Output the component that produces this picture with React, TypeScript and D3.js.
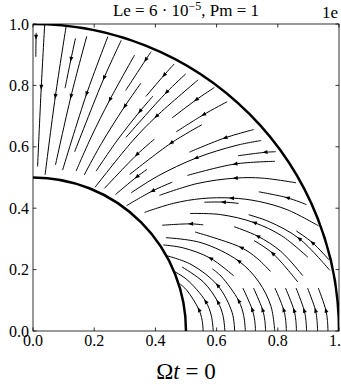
import React from 'react'
import * as d3 from 'd3'

type Pt = [number, number]

const xTicks = [0, 0.2, 0.4, 0.6, 0.8, 1.0]
const yTicks = [0, 0.2, 0.4, 0.6, 0.8, 1.0]
// inner and outer radius of the shell
const shells = [0.5, 1.0]

// field lines near the pole, outer end first (flow goes inward)
const poleLines: Pt[][] = [
  [[0.0106, 0.971], [0.0100, 0.957], [0.0092, 0.893]],
  [[0.0382, 0.999], [0.0270, 0.794], [0.0150, 0.536]],
  [[0.1085, 0.994], [0.0730, 0.764], [0.0395, 0.509]],
  [[0.1387, 0.953], [0.1240, 0.885], [0.1047, 0.791]],
  [[0.1756, 0.960], [0.1240, 0.764], [0.0735, 0.541]],
  [[0.2447, 0.959], [0.1750, 0.772], [0.0967, 0.524]],
  [[0.2885, 0.947], [0.2320, 0.824], [0.1361, 0.584]],
  [[0.3320, 0.899], [0.2510, 0.753], [0.1903, 0.632], [0.1408, 0.521]],
  [[0.3520, 0.8065], [0.2997, 0.7315], [0.2234, 0.6104], [0.1672, 0.508]],
  [[0.3862, 0.910], [0.3680, 0.883], [0.3028, 0.7835]],
  [[0.3922, 0.7654], [0.3490, 0.715], [0.2757, 0.6216], [0.2061, 0.5207]],
  [[0.5395, 0.818], [0.4030, 0.699], [0.3257, 0.6196], [0.2026, 0.468]],
  [[0.4617, 0.870], [0.4280, 0.833], [0.3690, 0.764]],
  [[0.4992, 0.8375], [0.4360, 0.777], [0.3037, 0.6307]],
  [[0.5925, 0.7931], [0.5330, 0.753], [0.4548, 0.6943]],
  [[0.6345, 0.7469], [0.5570, 0.7045], [0.4680, 0.6488]],
]
const poleArrows = [1, 1, 1, 1, 1, 1, 1, 1, 1, 1, 1, 1, 1, 1, 1, 1]

// field lines at mid latitudes
const midLines: Pt[][] = [
  [[0.7212, 0.6562], [0.6270, 0.629], [0.5111, 0.5826]],
  [[0.5520, 0.672], [0.4510, 0.612], [0.3160, 0.510]],
  [[0.3965, 0.6248], [0.3390, 0.574], [0.2335, 0.4646]],
  [[0.7456, 0.6205], [0.6663, 0.605], [0.5320, 0.563], [0.4090, 0.5053], [0.3209, 0.4503]],
  [[0.7932, 0.584], [0.7580, 0.582], [0.6698, 0.5708]],
  [[0.7910, 0.5527], [0.6600, 0.544], [0.5045, 0.5067]],
  [[0.3725, 0.5266], [0.3390, 0.502], [0.2696, 0.4446]],
  [[0.8597, 0.4828], [0.7497, 0.498], [0.6610, 0.498], [0.5364, 0.4803], [0.4133, 0.4418]],
  [[0.4551, 0.4849], [0.3900, 0.456], [0.3057, 0.4083]],
  [[0.6718, 0.4157], [0.6220, 0.420], [0.5603, 0.4195]],
  [[0.8937, 0.4118], [0.8310, 0.434], [0.7378, 0.4534]],
  [[0.9331, 0.3425], [0.8309, 0.395], [0.7379, 0.422], [0.6486, 0.4332], [0.5514, 0.4313], [0.4596, 0.416], [0.3643, 0.3864]],
  [[0.5563, 0.3457], [0.5150, 0.349], [0.4222, 0.3445]],
  [[0.8985, 0.240], [0.8129, 0.310], [0.7230, 0.353], [0.6120, 0.3793], [0.5129, 0.3828]],
  [[0.8818, 0.180], [0.8093, 0.2598], [0.7340, 0.309], [0.6574, 0.3397]],
  [[0.7761, 0.1941], [0.7328, 0.2364], [0.6800, 0.272], [0.5295, 0.3225]],
  [[0.8654, 0.1597], [0.7830, 0.2532], [0.7222, 0.2948]],
  [[0.9701, 0.1975], [0.8700, 0.301], [0.7718, 0.3562], [0.7047, 0.3787]],
  [[0.9676, 0.2317], [0.9130, 0.288], [0.8604, 0.3259]],
]
const midArrows = [1, 1, 1, 2, 1, 1, 1, 2, 1, 1, 1, 3, 1, 2, 2, 2, 1, 1, 1]

// field lines leaving the equatorial plane
const equatorLines: Pt[][] = [
  [[0.556, 0], [0.5527, 0.035], [0.542, 0.070], [0.5029, 0.1323], [0.4813, 0.1527]],
  [[0.589, 0], [0.5827, 0.050], [0.564, 0.097], [0.5028, 0.1676], [0.4607, 0.1944]],
  [[0.627, 0], [0.6210, 0.050], [0.604, 0.095], [0.5578, 0.1588], [0.4873, 0.2083]],
  [[0.659, 0], [0.6508, 0.060], [0.603, 0.149], [0.5162, 0.217], [0.4355, 0.2456]],
  [[0.694, 0], [0.6886, 0.050], [0.672, 0.099], [0.6146, 0.1786], [0.5860, 0.2025]],
  [[0.727, 0], [0.7245, 0.035], [0.716, 0.071], [0.6858, 0.140]],
  [[0.6558, 0.1797], [0.580, 0.237], [0.4901, 0.2709], [0.4260, 0.2803]],
  [[0.760, 0], [0.7576, 0.035], [0.750, 0.070], [0.7207, 0.140]],
  [[0.790, 0], [0.7778, 0.080], [0.7378, 0.160], [0.672, 0.228], [0.5492, 0.2877], [0.4341, 0.304]],
  [[0.828, 0], [0.8258, 0.035], [0.819, 0.070], [0.7907, 0.140]],
  [[0.861, 0], [0.8589, 0.035], [0.853, 0.068], [0.8252, 0.140]],
  [[0.894, 0], [0.8919, 0.035], [0.886, 0.068], [0.8597, 0.140]],
  [[0.930, 0], [0.9281, 0.035], [0.923, 0.068], [0.8972, 0.140]],
  [[0.964, 0], [0.9621, 0.035], [0.957, 0.068], [0.9325, 0.140]],
]
const equatorArrows = [2, 2, 2, 2, 2, 2, 1, 2, 3, 2, 2, 2, 2, 2]

export default function App() {
  const width = 341
  const height = 385
  const margin = { top: 24, right: 2, bottom: 54, left: 33 }
  const x = d3.scaleLinear().domain([0, 1]).range([margin.left, width - margin.right])
  const y = d3.scaleLinear().domain([0, 1]).range([height - margin.bottom, margin.top])
  const font = 'Liberation Serif, Times New Roman, serif'

  const line = d3.line<Pt>()
    .x(d => x(d[0]))
    .y(d => y(d[1]))
    .curve(d3.curveCatmullRom.alpha(0.5))

  const arrowHead = (pts: Pt[], i: number) => {
    const p = pts[i]
    const a = pts[Math.max(0, i - 1)]
    const b = pts[Math.min(pts.length - 1, i + 1)]
    let dx = x(b[0]) - x(a[0])
    let dy = y(b[1]) - y(a[1])
    const len = Math.hypot(dx, dy) || 1
    dx /= len
    dy /= len
    const cx = x(p[0]), cy = y(p[1])
    const tx = cx + dx * 2.5, ty = cy + dy * 2.5
    const bx = cx - dx * 2.5, by = cy - dy * 2.5
    return `M${tx},${ty}L${bx - dy * 2},${by + dx * 2}L${bx + dy * 2},${by - dx * 2}Z`
  }

  const groups = [
    { lines: poleLines, arrows: poleArrows },
    { lines: midLines, arrows: midArrows },
    { lines: equatorLines, arrows: equatorArrows },
  ]

  const x0 = x(0), x1 = x(1), y0 = y(0), y1 = y(1)

  return (
    <svg width={width} height={height} style={{ position: 'absolute', left: 0, top: 0, background: '#fff' }}>
      <defs>
        <clipPath id="plotArea">
          <rect x={x0} y={y1} width={x1 - x0} height={y0 - y1} />
        </clipPath>
      </defs>

      <g clipPath="url(#plotArea)">
        {groups.map((g, gi) => (
          <g key={gi}>
            {g.lines.map((pts, i) => (
              <g key={i}>
                <path d={line(pts) || ''} fill="none" stroke="#000" strokeWidth={1} />
                <path d={arrowHead(pts, g.arrows[i])} fill="#000" stroke="none" />
              </g>
            ))}
          </g>
        ))}
        {shells.map(r => (
          <path key={r}
            d={`M${x(0)},${y(r)}A${x(r) - x(0)},${y(0) - y(r)} 0 0 1 ${x(r)},${y(0)}`}
            fill="none" stroke="#000" strokeWidth={2.5} />
        ))}
      </g>

      <rect x={x0} y={y1} width={x1 - x0} height={y0 - y1} fill="none" stroke="#000" strokeWidth={0.8} />

      {xTicks.map(t => (
        <g key={'x' + t}>
          <line x1={x(t)} x2={x(t)} y1={y0} y2={y0 - 3.5} stroke="#000" strokeWidth={0.8} />
          <line x1={x(t)} x2={x(t)} y1={y1} y2={y1 + 3.5} stroke="#000" strokeWidth={0.8} />
          <text x={x(t)} y={y0 + 15} textAnchor="middle" fontFamily={font} fontSize={16}>{t.toFixed(1)}</text>
        </g>
      ))}
      {yTicks.map(t => (
        <g key={'y' + t}>
          <line x1={x0} x2={x0 + 3.5} y1={y(t)} y2={y(t)} stroke="#000" strokeWidth={0.8} />
          <line x1={x1} x2={x1 - 3.5} y1={y(t)} y2={y(t)} stroke="#000" strokeWidth={0.8} />
          <text x={x0 - 4} y={y(t)} dy="0.35em" textAnchor="end" fontFamily={font} fontSize={16}>{t.toFixed(1)}</text>
        </g>
      ))}

      <text x={(x0 + x1) / 2} y={16} textAnchor="middle" fontFamily={font} fontSize={17}>
        Le = 6 · 10<tspan dy={-6} fontSize={12}>−5</tspan><tspan dy={6}>, Pm = 1</tspan>
      </text>
      <text x={322} y={18} fontFamily={font} fontSize={17}>1e</text>

      <text x={(x0 + x1) / 2} y={379} textAnchor="middle" fontFamily={font} fontSize={23}>
        Ω<tspan fontStyle="italic">t</tspan> = 0
      </text>
    </svg>
  )
}
